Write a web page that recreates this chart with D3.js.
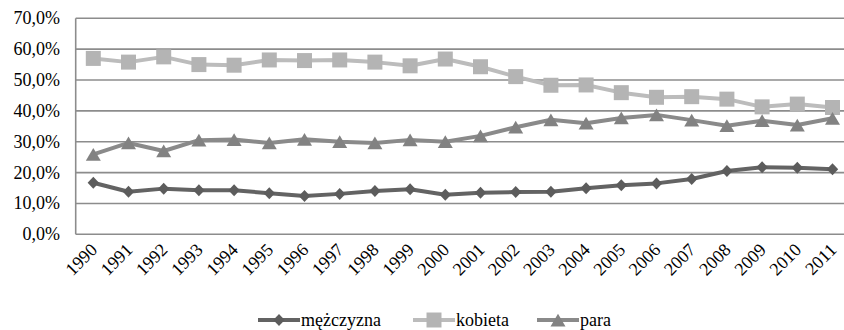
<!DOCTYPE html>
<html>
<head>
<meta charset="utf-8">
<script src="https://cdn.jsdelivr.net/npm/d3@7"></script>
</head>
<body style="margin:0">
<svg id="chart" width="844" height="330"></svg>
<script>
// Years on the category axis
const years = ["1990","1991","1992","1993","1994","1995","1996","1997","1998","1999","2000",
               "2001","2002","2003","2004","2005","2006","2007","2008","2009","2010","2011"];

// Share of each group, in percent
const mezczyzna = [16.7,13.8,14.8,14.3,14.3,13.3,12.4,13.1,14.0,14.6,12.8,
                   13.5,13.7,13.8,14.9,15.9,16.5,17.9,20.5,21.7,21.6,21.1];
const kobieta   = [57.0,55.8,57.5,55.0,54.8,56.5,56.3,56.5,55.8,54.6,56.8,
                   54.3,51.1,48.3,48.4,45.9,44.4,44.6,43.8,41.3,42.2,41.1];
const para      = [25.9,29.6,27.0,30.5,30.7,29.6,30.8,30.0,29.6,30.6,30.0,
                   31.9,34.7,37.1,36.0,37.7,38.7,37.0,35.2,36.8,35.4,37.6];

const seriesNames = ["mężczyzna", "kobieta", "para"];
const yTicks = [0, 10, 20, 30, 40, 50, 60, 70];

const FONT = '"Liberation Serif"';

const svg = d3.select("#chart");
const plot = { left: 75.7, right: 850.1, top: 18.3, bottom: 234.3 };

const x = d3.scalePoint().domain(years).range([plot.left, plot.right]).padding(0.5);
const y = d3.scaleLinear().domain([0, 70]).range([plot.bottom, plot.top]);

const fmt = v => d3.format(".1f")(v).replace(".", ",") + "%";

// Horizontal gridlines
svg.selectAll("line.grid").data(yTicks).join("line")
  .attr("class", "grid")
  .attr("x1", plot.left).attr("x2", plot.right)
  .attr("y1", d => y(d)).attr("y2", d => y(d))
  .attr("stroke", "#8c8c8c").attr("stroke-width", 1.6);

// Vertical axis line
svg.append("line")
  .attr("x1", plot.left).attr("x2", plot.left)
  .attr("y1", y(70)).attr("y2", y(0))
  .attr("stroke", "#8c8c8c").attr("stroke-width", 1.6);

// Y tick labels
svg.selectAll("text.ytick").data(yTicks).join("text")
  .attr("class", "ytick")
  .attr("x", 60).attr("y", d => y(d) + 6)
  .attr("text-anchor", "end")
  .attr("font-size", 18)
  .style("font-family", FONT)
  .text(fmt);

// X tick labels, rotated
svg.selectAll("text.xtick").data(years).join("text")
  .attr("class", "xtick")
  .attr("transform", d => `translate(${x(d) + 5},251) rotate(-45)`)
  .attr("text-anchor", "end")
  .attr("font-size", 18)
  .style("font-family", FONT)
  .text(d => d);

// Marker shapes
const triangle = {
  draw(ctx, size) {
    const s = Math.sqrt(size);
    const h = s * 0.85;
    ctx.moveTo(0, -h / 2);
    ctx.lineTo(s / 2, h / 2);
    ctx.lineTo(-s / 2, h / 2);
    ctx.closePath();
  }
};
const diamond = {
  draw(ctx, size) {
    const r = Math.sqrt(size) / 2;
    ctx.moveTo(0, -r);
    ctx.lineTo(r * 0.95, 0);
    ctx.lineTo(0, r);
    ctx.lineTo(-r * 0.95, 0);
    ctx.closePath();
  }
};

const series = [
  { name: seriesNames[0], values: mezczyzna, line: "#636363", fill: "#5c5c5c", symbol: diamond,  size: 12 * 12 },
  { name: seriesNames[1], values: kobieta,   line: "#bcbcbc", fill: "#b4b4b4", symbol: d3.symbolSquare, size: 15 * 15 },
  { name: seriesNames[2], values: para,      line: "#8a8a8a", fill: "#828282", symbol: triangle, size: 15 * 15 }
];

const lineGen = d3.line().x((d, i) => x(years[i])).y(d => y(d));

// Lines first, then markers on top
series.forEach(s => {
  svg.append("path")
    .datum(s.values)
    .attr("d", lineGen)
    .attr("fill", "none")
    .attr("stroke", s.line)
    .attr("stroke-width", 4)
    .attr("stroke-linejoin", "round");
});
series.forEach(s => {
  s.values.forEach((v, i) => {
    svg.append("path")
      .attr("transform", `translate(${x(years[i])},${y(v)})`)
      .attr("d", d3.symbol(s.symbol, s.size)())
      .attr("fill", s.fill);
  });
});

// Legend
const legendX = [258, 413, 537];
const legendY = 320;
series.forEach((s, i) => {
  const lx = legendX[i];
  svg.append("line")
    .attr("x1", lx).attr("x2", lx + 42).attr("y1", legendY).attr("y2", legendY)
    .attr("stroke", s.line).attr("stroke-width", 4);
  svg.append("path")
    .attr("transform", `translate(${lx + 21},${legendY})`)
    .attr("d", d3.symbol(s.symbol, s.size)())
    .attr("fill", s.fill);
  svg.append("text")
    .attr("x", lx + 43).attr("y", legendY + 6)
    .attr("font-size", 18)
    .style("font-family", FONT)
    .text(s.name);
});
</script>
</body>
</html>
